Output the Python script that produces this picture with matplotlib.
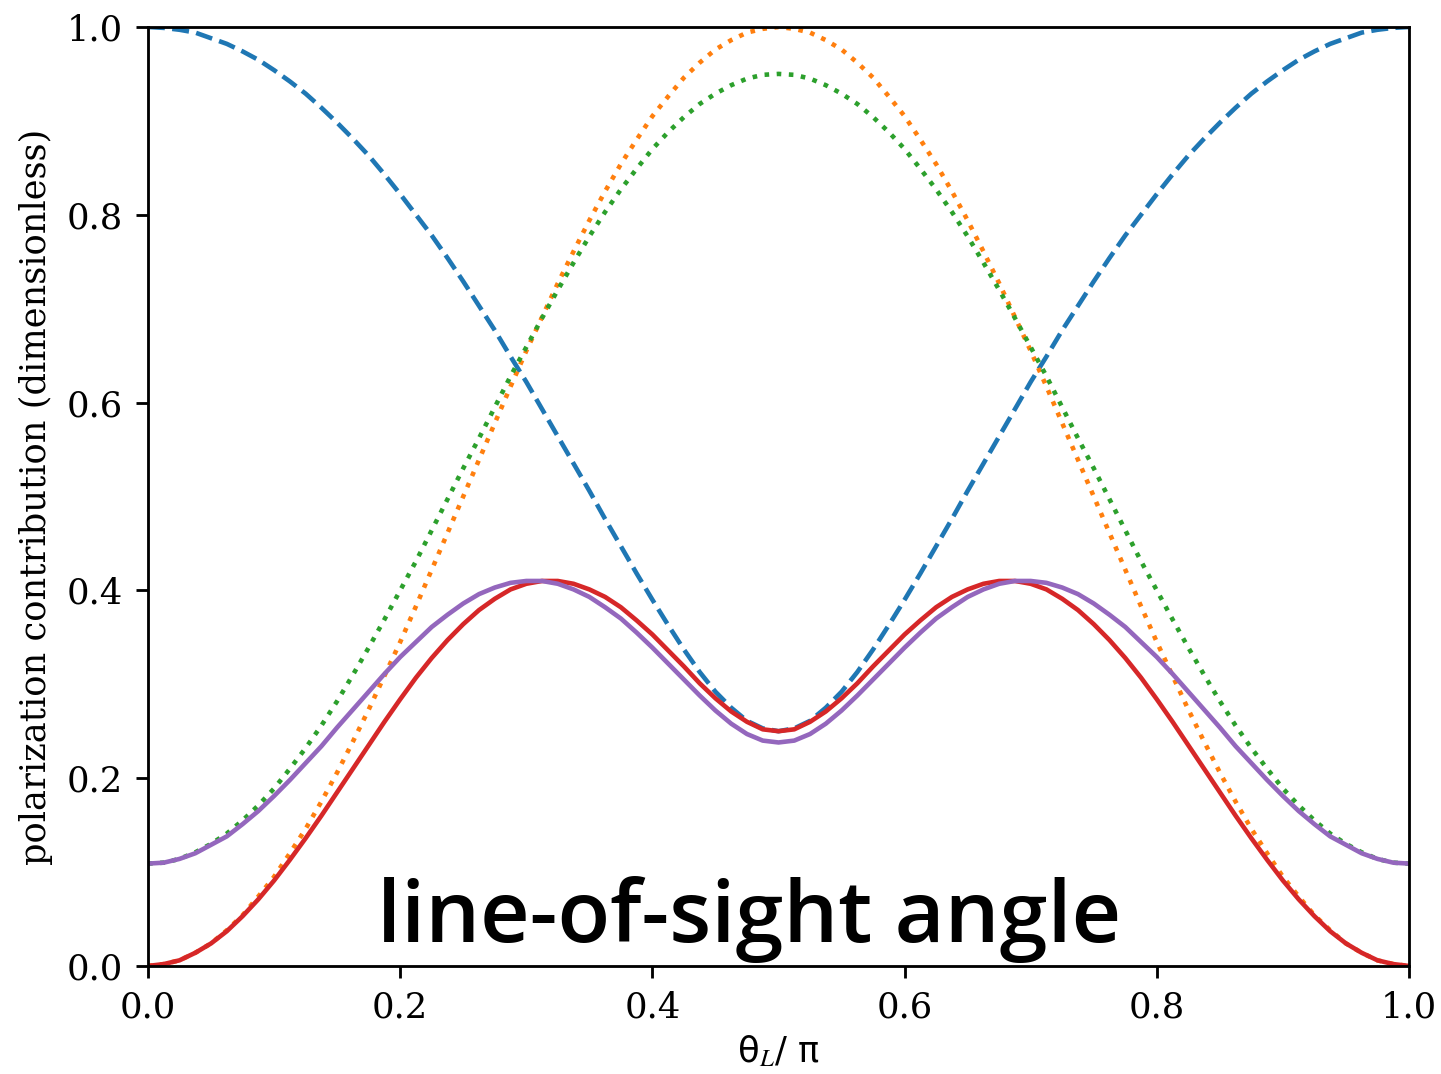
import matplotlib
matplotlib.use("Agg")
import matplotlib.pyplot as plt

# Values (theta_L / pi from 0 to 1 in steps of 0.0125)
theta = [0.0000, 0.0125, 0.0250, 0.0375, 0.0500, 0.0625, 0.0750, 0.0875, 0.1000, 0.1125,
         0.1250, 0.1375, 0.1500, 0.1625, 0.1750, 0.1875, 0.2000, 0.2125, 0.2250, 0.2375,
         0.2500, 0.2625, 0.2750, 0.2875, 0.3000, 0.3125, 0.3250, 0.3375, 0.3500, 0.3625,
         0.3750, 0.3875, 0.4000, 0.4125, 0.4250, 0.4375, 0.4500, 0.4625, 0.4750, 0.4875,
         0.5000,
         0.5125, 0.5250, 0.5375, 0.5500, 0.5625, 0.5750, 0.5875, 0.6000, 0.6125, 0.6250,
         0.6375, 0.6500, 0.6625, 0.6750, 0.6875, 0.7000, 0.7125, 0.7250, 0.7375, 0.7500,
         0.7625, 0.7750, 0.7875, 0.8000, 0.8125, 0.8250, 0.8375, 0.8500, 0.8625, 0.8750,
         0.8875, 0.9000, 0.9125, 0.9250, 0.9375, 0.9500, 0.9625, 0.9750, 0.9875, 1.0000]

blue = [1.000, 0.999, 0.997, 0.994, 0.988, 0.982, 0.974, 0.965, 0.954, 0.942,
        0.929, 0.914, 0.898, 0.881, 0.863, 0.843, 0.822, 0.800, 0.778, 0.754,
        0.729, 0.703, 0.677, 0.649, 0.622, 0.593, 0.564, 0.535, 0.506, 0.476,
        0.447, 0.418, 0.390, 0.363, 0.337, 0.313, 0.292, 0.275, 0.261, 0.253,
        0.250,
        0.253, 0.261, 0.275, 0.292, 0.313, 0.337, 0.363, 0.390, 0.418, 0.447,
        0.476, 0.506, 0.535, 0.564, 0.593, 0.622, 0.649, 0.677, 0.703, 0.729,
        0.754, 0.778, 0.800, 0.822, 0.843, 0.863, 0.881, 0.898, 0.914, 0.929,
        0.942, 0.954, 0.965, 0.974, 0.982, 0.988, 0.994, 0.997, 0.999, 1.000]

orange = [0.000, 0.002, 0.006, 0.014, 0.024, 0.038, 0.054, 0.074, 0.095, 0.120,
          0.146, 0.175, 0.206, 0.239, 0.273, 0.309, 0.345, 0.383, 0.422, 0.461,
          0.500, 0.539, 0.578, 0.617, 0.655, 0.691, 0.727, 0.761, 0.794, 0.825,
          0.854, 0.880, 0.905, 0.926, 0.946, 0.962, 0.976, 0.986, 0.994, 0.998,
          1.000,
          0.998, 0.994, 0.986, 0.976, 0.962, 0.946, 0.926, 0.905, 0.880, 0.854,
          0.825, 0.794, 0.761, 0.727, 0.691, 0.655, 0.617, 0.578, 0.539, 0.500,
          0.461, 0.422, 0.383, 0.345, 0.309, 0.273, 0.239, 0.206, 0.175, 0.146,
          0.120, 0.095, 0.074, 0.054, 0.038, 0.024, 0.014, 0.006, 0.002, 0.000]

green = [0.109, 0.110, 0.114, 0.121, 0.130, 0.141, 0.155, 0.171, 0.189, 0.210,
         0.232, 0.256, 0.282, 0.310, 0.339, 0.369, 0.400, 0.431, 0.464, 0.497,
         0.530, 0.562, 0.595, 0.628, 0.659, 0.690, 0.720, 0.749, 0.777, 0.803,
         0.827, 0.849, 0.870, 0.888, 0.904, 0.918, 0.929, 0.938, 0.945, 0.949,
         0.950,
         0.949, 0.945, 0.938, 0.929, 0.918, 0.904, 0.888, 0.870, 0.849, 0.827,
         0.803, 0.777, 0.749, 0.720, 0.690, 0.659, 0.628, 0.595, 0.562, 0.530,
         0.497, 0.464, 0.431, 0.400, 0.369, 0.339, 0.310, 0.282, 0.256, 0.232,
         0.210, 0.189, 0.171, 0.155, 0.141, 0.130, 0.121, 0.114, 0.110, 0.109]

red = [0.000, 0.002, 0.006, 0.014, 0.024, 0.037, 0.053, 0.071, 0.091, 0.113,
       0.136, 0.160, 0.185, 0.210, 0.235, 0.260, 0.284, 0.307, 0.328, 0.347,
       0.364, 0.379, 0.391, 0.401, 0.407, 0.410, 0.410, 0.407, 0.401, 0.393,
       0.382, 0.368, 0.353, 0.336, 0.319, 0.301, 0.285, 0.271, 0.260, 0.252,
       0.250,
       0.252, 0.260, 0.271, 0.285, 0.301, 0.319, 0.336, 0.353, 0.368, 0.382,
       0.393, 0.401, 0.407, 0.410, 0.410, 0.407, 0.401, 0.391, 0.379, 0.364,
       0.347, 0.328, 0.307, 0.284, 0.260, 0.235, 0.210, 0.185, 0.160, 0.136,
       0.113, 0.091, 0.071, 0.053, 0.037, 0.024, 0.014, 0.006, 0.002, 0.000]

purple = [0.109, 0.110, 0.114, 0.120, 0.129, 0.138, 0.151, 0.165, 0.181, 0.198,
          0.216, 0.234, 0.254, 0.273, 0.292, 0.311, 0.329, 0.345, 0.361, 0.374,
          0.386, 0.396, 0.403, 0.408, 0.410, 0.410, 0.407, 0.401, 0.393, 0.382,
          0.370, 0.355, 0.339, 0.322, 0.305, 0.288, 0.272, 0.258, 0.247, 0.240,
          0.238,
          0.240, 0.247, 0.258, 0.272, 0.288, 0.305, 0.322, 0.339, 0.355, 0.370,
          0.382, 0.393, 0.401, 0.407, 0.410, 0.410, 0.408, 0.403, 0.396, 0.386,
          0.374, 0.361, 0.345, 0.329, 0.311, 0.292, 0.273, 0.254, 0.234, 0.216,
          0.198, 0.181, 0.165, 0.151, 0.138, 0.129, 0.120, 0.114, 0.110, 0.109]

plt.rcParams['font.family'] = 'serif'
plt.rcParams['mathtext.fontset'] = 'stix'

dpi = 254
fig, ax = plt.subplots(figsize=(1441 / dpi, 1074 / dpi))
fig.subplots_adjust(left=0.1027, right=0.9778, bottom=0.1006, top=0.9749)

lw = 1.3
ax.plot(theta, blue, '--', color='C0', lw=lw)
ax.plot(theta, orange, ':', color='C1', lw=lw)
ax.plot(theta, green, ':', color='C2', lw=lw)
ax.plot(theta, red, '-', color='C3', lw=lw)
ax.plot(theta, purple, '-', color='C4', lw=lw)

ax.set_xlim(0, 1)
ax.set_ylim(0, 1)
ax.set_xlabel(r'θ$_L$/ π', fontfamily='DejaVu Sans', labelpad=2.5)
ax.set_ylabel('polarization contribution (dimensionless)')

ax.text(0.477, 0.025, 'line-of-sight angle', fontfamily='Open Sans',
        fontweight='semibold', fontsize=24.5, ha='center', va='baseline')

fig.savefig('out.png', dpi=dpi)
